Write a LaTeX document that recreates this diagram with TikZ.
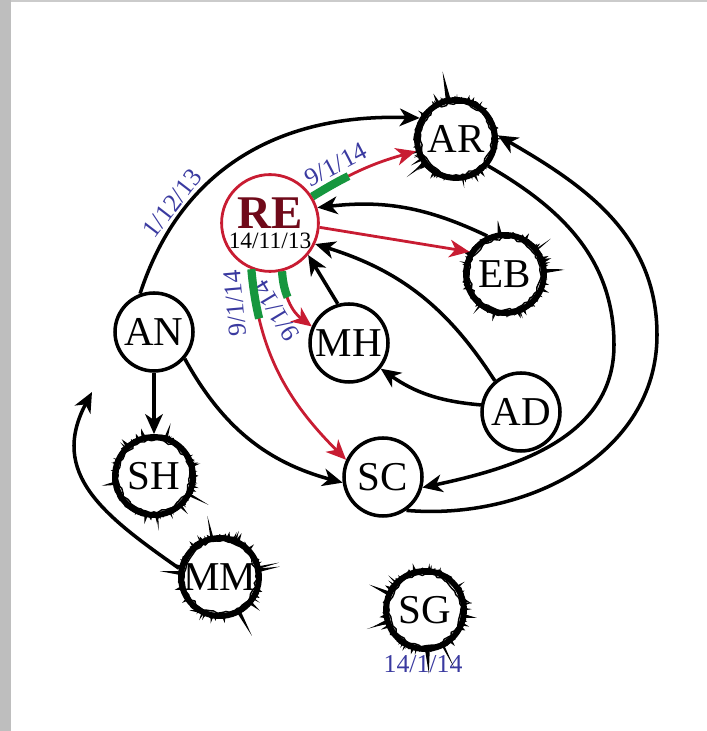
\documentclass[tikz,border=0pt]{standalone}
\usepackage{fontspec}
\setmainfont{Liberation Serif}
\usetikzlibrary{arrows.meta, decorations.pathmorphing}
\definecolor{edgered}{RGB}{200,28,50}
\definecolor{rootred}{RGB}{112,10,26}
\definecolor{newgreen}{RGB}{22,150,62}
\definecolor{dateblue}{RGB}{58,58,160}
\definecolor{framegray}{RGB}{190,190,190}

\newcommand{\namefont}{\fontsize{35}{35}\selectfont}
\newcommand{\datefont}{\fontsize{22}{22}\selectfont}

% ragged ring and thorns round a node
\newcommand{\thorns}[2]{%
  \pgfmathsetseed{#2}%
  \foreach \k in {1,...,46}{%
    \pgfmathsetmacro{\ang}{360*rnd}%
    \pgfmathsetmacro{\tip}{1.26+0.18*rnd^2+0.8*rnd^9}%
    \pgfmathsetmacro{\half}{1.5+2.5*rnd}%
    \pgfmathsetmacro{\angL}{\ang-\half}%
    \pgfmathsetmacro{\angR}{\ang+\half}%
    \fill ([shift={(\angL:1.15cm)}]#1.center) -- ([shift={(\ang:\tip cm)}]#1.center)
      -- ([shift={(\angR:1.15cm)}]#1.center) -- cycle;
  }%
  \draw[line width=2.2pt, decorate, decoration={random steps, segment length=2pt, amplitude=1.4pt}]
    (#1.center) circle (1.19cm);
  \draw[line width=1.2pt, decorate, decoration={random steps, segment length=3pt, amplitude=1.2pt}]
    (#1.center) circle (1.07cm);
}

\tikzset{
  person/.style={circle, draw, line width=3pt, minimum size=2.34cm, inner sep=0pt, font=\namefont},
  thorny/.style={person, line width=5pt},
  founder/.style={circle, draw=edgered, line width=2.4pt, minimum size=2.8cm, inner sep=0pt, align=center},
  link/.style={line width=3pt, -{Stealth[length=17pt,width=15pt,inset=5pt]}},
  redlink/.style={link, draw=edgered, line width=2.4pt},
  fresh/.style={postaction={draw=newgreen, line width=7pt, dash pattern=on #1 off 40cm, arrows=-}},
  date/.style={text=dateblue, font=\datefont, inner sep=2pt}
}

\begin{document}
\begin{tikzpicture}[x=0.03cm, y=0.03cm]
\useasboundingbox (0,0) rectangle (707,731);
% page frame
\fill[framegray] (0,0) rectangle (11,731);
\fill[framegray!80] (11,729) rectangle (707,731);

% people
\node[founder] (RE) at (270,508) {{\fontsize{40}{40}\selectfont\bfseries\color{rootred}RE}\\[3pt]{\fontsize{20}{20}\selectfont 14/11/13}};
\node[person] (AN) at (154,399) {AN};
\node[person] (MH) at (349,388) {MH};
\node[person] (AD) at (521,319) {AD};
\node[person] (SC) at (383,254) {SC};
\node[thorny] (AR) at (456,592) {AR};
\node[thorny] (EB) at (505,457) {EB};
\node[thorny] (SH) at (154,255) {SH};
\node[thorny] (MM) at (220,154) {MM};
\node[thorny] (SG) at (425,121) {SG};
\node[date] (dateSG) at (423,67) {14/1/14};

\thorns{AR}{11}
\thorns{EB}{23}
\thorns{SH}{37}
\thorns{MM}{41}
\thorns{SG}{58}

% turning points of the outer arcs
\coordinate (arcA) at (614,386);
\coordinate (arcB) at (657,396);
\coordinate (mmtip) at (92,339);

% links
\draw[link] (AN.110) to[out=72,in=178,looseness=1.05] node[date, pos=0.25, sloped, above]{1/12/13} (AR.150);
\draw[redlink, fresh=1.25cm] (RE.32) to[bend left=8] node[date, pos=0.3, sloped, above=3pt]{9/1/14} (AR.197);
\draw[link] (EB.115) to[bend right=16] (RE.18);
\draw[redlink] (RE.-5) -- (EB.148);
\draw[link] (MH.106) -- (RE.-40);
\draw[link] (AD.130) to[bend right=20] (RE.-25);
\draw[link] (AD.170) to[bend left=15] (MH.-39);
\draw[redlink, fresh=0.8cm] (RE.-76) to[bend right=25] (MH.156);
\node[date, rotate=121] (dateMH) at (276,420) {9/1/14};
\draw[redlink, fresh=1.5cm] (RE.-112) to[out=-85,in=135] (SC.155);
\node[date, rotate=95] (dateSC) at (235,428) {9/1/14};
\draw[link] (AN) -- (SH);
\draw[link] (AN.-41) to[bend right=23] (SC.188);
\draw[link] (AR.-40) to[out=-30,in=90] (arcA) to[out=-90,in=12] (SC.-15);
\draw[link] (SC.-55) to[out=-5,in=-90] (arcB) to[out=90,in=-30] (AR.5);
\draw[link] (MM.168) to[out=145,in=-118,looseness=1.2] (mmtip);
\end{tikzpicture}
\end{document}
